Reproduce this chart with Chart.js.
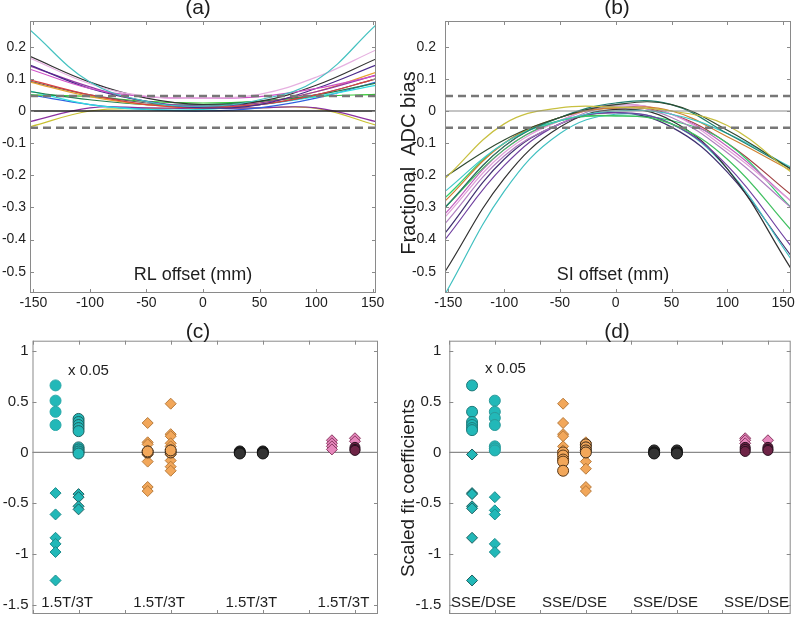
<!DOCTYPE html>
<html>
<head>
<meta charset="utf-8">
<script src="https://cdn.jsdelivr.net/npm/chart.js@4.4.0/dist/chart.umd.min.js"></script>
<style>
  body { margin: 0; background: #fff; }
  #wrap { position: relative; width: 800px; height: 618px; overflow: hidden; }
  canvas { position: absolute; }
</style>
</head>
<body>
<div id="wrap">
  <canvas id="pa" width="400" height="320" style="left:0;top:0"></canvas>
  <canvas id="pb" width="400" height="320" style="left:400px;top:0"></canvas>
  <canvas id="pc" width="400" height="330" style="left:0;top:310px"></canvas>
  <canvas id="pd" width="400" height="330" style="left:400px;top:310px"></canvas>
</div>
<script>
// ---- panel (a): RL offset curves ----
const rlOffsets = [-153, -100, -50, 0, 50, 100, 153];
const rlCurves = [
  [0.252, 0.090, 0.030, 0.015, 0.035, 0.095, 0.268],
  [0.165, 0.085, 0.046, 0.040, 0.052, 0.105, 0.190],
  [0.130, 0.070, 0.045, 0.040, 0.045, 0.070, 0.110],
  [0.170, 0.090, 0.040, 0.020, 0.030, 0.080, 0.162],
  [0.143, 0.070, 0.030, 0.010, 0.020, 0.070, 0.143],
  [0.140, 0.075, 0.030, 0.015, 0.025, 0.060, 0.112],
  [0.097, 0.050, 0.020, 0.010, 0.020, 0.050, 0.100],
  [0.090, 0.045, 0.020, 0.010, 0.025, 0.060, 0.120],
  [0.092, 0.050, 0.025, 0.015, 0.020, 0.050, 0.100],
  [0.060, 0.035, 0.020, 0.020, 0.030, 0.050, 0.087],
  [0.062, 0.020, 0.005, 0.005, 0.020, 0.045, 0.080],
  [0.050, 0.045, 0.030, 0.025, 0.030, 0.045, 0.052],
  [0.050, 0.020, 0.005, 0.000, 0.010, 0.040, 0.090],
  [-0.033, 0.010, 0.010, 0.008, 0.010, 0.010, -0.033],
  [-0.049, 0.000, 0.008, 0.008, 0.010, 0.008, -0.044]
];
const rlColors = ['#45c2c0', '#e6b0e0', '#d050c8', '#333333', '#4a2a8a', '#9535a5', '#d84040',
  '#e8a030', '#606060', '#208050', '#30dede', '#30c830', '#3060e0', '#8a30a0', '#c8c030'];

// ---- panel (b): SI offset curves ----
const siOffsets = [-153, -100, -50, 0, 50, 100, 157];
const siCurves = [
  [-0.210, -0.040, 0.010, 0.012, 0.000, -0.045, -0.190],
  [-0.205, -0.090, -0.020, 0.020, 0.020, -0.060, -0.180],
  [-0.300, -0.110, -0.020, 0.025, 0.020, -0.070, -0.180],
  [-0.250, -0.100, -0.030, 0.000, -0.010, -0.070, -0.175],
  [-0.280, -0.100, -0.020, 0.010, 0.000, -0.080, -0.185],
  [-0.300, -0.120, -0.030, -0.015, -0.040, -0.150, -0.370],
  [-0.330, -0.130, -0.030, 0.020, -0.010, -0.120, -0.280],
  [-0.350, -0.140, -0.040, 0.015, -0.020, -0.130, -0.300],
  [-0.320, -0.120, -0.030, 0.020, -0.010, -0.110, -0.280],
  [-0.400, -0.170, -0.040, -0.005, -0.040, -0.170, -0.420],
  [-0.500, -0.210, -0.050, 0.005, -0.030, -0.180, -0.490],
  [-0.570, -0.250, -0.070, -0.010, -0.040, -0.180, -0.460],
  [-0.380, -0.150, -0.040, -0.005, -0.050, -0.190, -0.450],
  [-0.270, -0.100, -0.030, -0.015, -0.030, -0.100, -0.300],
  [-0.300, -0.110, -0.020, 0.010, -0.010, -0.100, -0.260]
];
const siColors = ['#c8c040', '#304a30', '#208070', '#40c8c8', '#d08030', '#40c060', '#e0a0d8',
  '#b080c0', '#c060c0', '#7040a0', '#303030', '#40c0c0', '#403070', '#30d070', '#a04040'];

const biasLimits = [0.047, -0.052];
const curveTicksX = [-150, -100, -50, 0, 50, 100, 150];
const curveTicksY = [-0.5, -0.4, -0.3, -0.2, -0.1, 0, 0.1, 0.2];

// ---- panels (c) and (d): fit coefficients ----
const columnX = [0.5, 1, 2.5, 3, 4.5, 5, 6.5, 7];
const coefTicksX = [0, 1, 2, 3, 4, 5, 6, 7];
const coefTicksY = [-1.5, -1, -0.5, 0, 0.5, 1];
const labelsC = ['1.5T/3T', '1.5T/3T', '1.5T/3T', '1.5T/3T'];
const labelsD = ['SSE/DSE', 'SSE/DSE', 'SSE/DSE', 'SSE/DSE'];

// (c) 1.5T / 3T
const cCyanCircle1 = [0.66, 0.51, 0.40, 0.27];
const cCyanCircle2 = [0.33, 0.30, 0.27, 0.24, 0.21, 0.05, 0.03, 0.01, -0.01];
const cCyanDiamond1 = [-0.40, -0.61, -0.84, -0.90, -0.98, -1.26];
const cCyanDiamond2 = [-0.41, -0.44, -0.53, -0.56];
const cOrangeDiamond1 = [0.29, 0.10, 0.08, 0.02, -0.02, -0.09, -0.34, -0.38];
const cOrangeCircle1 = [0.00, 0.01];
const cOrangeDiamond2 = [0.48, 0.18, 0.16, 0.09, 0.06, 0.03, -0.02, -0.08, -0.14, -0.18];
const cOrangeCircle2 = [0.00, 0.02];
const cBlack1 = [0.01, 0.00, -0.01];
const cBlack2 = [0.01, 0.00, -0.01];
const cPinkDiamond1 = [0.12, 0.09, 0.06, 0.03];
const cPinkDiamond2 = [0.14, 0.11];
const cDarkPink2 = [0.05, 0.03, 0.02];

// (d) SSE / DSE
const dCyanCircle1 = [0.66, 0.40, 0.30, 0.27, 0.24, 0.22];
const dCyanCircle2 = [0.51, 0.40, 0.34, 0.27, 0.06, 0.04, 0.02];
const dCyanDiamond1 = [-0.02, -0.40, -0.41, -0.53, -0.55, -0.84, -1.26];
const dCyanDiamond2 = [-0.44, -0.57, -0.61, -0.90, -0.98];
const dOrangeDiamond1 = [0.48, 0.29, 0.18, 0.16, 0.06, 0.02, -0.06];
const dOrangeCircle1 = [0.00, -0.03, -0.07, -0.09, -0.18];
const dOrangeDiamond2 = [0.10, 0.07, 0.02, -0.09, -0.16, -0.34, -0.38];
const dOrangeCircle2 = [0.08, 0.05, 0.02, 0.00];
const dBlack1 = [0.02, 0.00, -0.01];
const dBlack2 = [0.02, 0.00, -0.01];
const dPinkDiamond1 = [0.14, 0.12, 0.09];
const dDarkPink1 = [0.05, 0.03, 0.01];
const dPinkDiamond2 = [0.12];
const dDarkPink2 = [0.05, 0.03, 0.02];

const FONT = "'Liberation Sans', Arial, sans-serif";
const TXT = '#1e1e1e';

// draws the box, inward ticks and loose text labels
const frame = {
  id: 'frame',
  afterDatasetsDraw(chart, args, opts) {
    const {ctx, chartArea: a, scales: {x, y}} = chart;
    ctx.save();
    ctx.strokeStyle = '#8a8a8a';
    ctx.lineWidth = 1;
    ctx.strokeRect(a.left + 0.5, a.top + 0.5, a.width - 1, a.height - 1);
    ctx.beginPath();
    x.ticks.forEach(t => {
      const p = Math.round(x.getPixelForValue(t.value)) + 0.5;
      ctx.moveTo(p, a.top); ctx.lineTo(p, a.top + 4);
      ctx.moveTo(p, a.bottom); ctx.lineTo(p, a.bottom - 4);
    });
    y.ticks.forEach(t => {
      const p = Math.round(y.getPixelForValue(t.value)) + 0.5;
      ctx.moveTo(a.left, p); ctx.lineTo(a.left + 4, p);
      ctx.moveTo(a.right, p); ctx.lineTo(a.right - 4, p);
    });
    ctx.stroke();
    ctx.fillStyle = TXT;
    ctx.textBaseline = 'middle';
    (opts.texts || []).forEach(t => {
      const px = t.x !== undefined ? x.getPixelForValue(t.x) : t.px;
      const py = t.y !== undefined ? y.getPixelForValue(t.y) : t.py;
      ctx.save();
      ctx.font = t.size + 'px ' + FONT;
      ctx.textAlign = t.align || 'center';
      ctx.translate(px, py);
      if (t.rotate) ctx.rotate(-Math.PI / 2);
      ctx.fillText(t.text, 0, 0);
      ctx.restore();
    });
    ctx.restore();
  }
};

function fixedTicks(values) {
  return s => { s.ticks = values.map(v => ({value: v})); };
}
function fmt(v) { return String(Math.round(v * 10) / 10); }

const noGrid = {display: false, drawTicks: false};

function curveChart(id, xs, curves, colors, xr, yr, box, zeroStyle, texts) {
  const datasets = [];
  biasLimits.forEach(v => datasets.push({
    data: [{x: xr[0], y: v}, {x: xr[1], y: v}],
    borderColor: '#777777', borderWidth: 2.5, borderDash: [8, 5], pointRadius: 0
  }));
  datasets.push({
    data: [{x: xr[0], y: 0}, {x: xr[1], y: 0}],
    borderColor: zeroStyle.color, borderWidth: zeroStyle.width, pointRadius: 0
  });
  curves.forEach((c, i) => datasets.push({
    data: c.map((v, j) => ({x: xs[j], y: v})),
    borderColor: colors[i], borderWidth: 1.2, pointRadius: 0, tension: 0.4
  }));
  return new Chart(document.getElementById(id), {
    type: 'line',
    data: {datasets},
    plugins: [frame],
    options: {
      responsive: false, animation: false, devicePixelRatio: 1,
      layout: {padding: {left: 0, top: box.top, right: box.right, bottom: 0}},
      plugins: {legend: {display: false}, tooltip: {enabled: false}, frame: {texts}},
      scales: {
        x: {
          type: 'linear', min: xr[0], max: xr[1],
          afterBuildTicks: fixedTicks(curveTicksX),
          afterFit: s => { s.height = box.xh; },
          grid: noGrid, border: {display: false},
          ticks: {padding: 2, color: TXT, font: {family: FONT, size: 14}, maxRotation: 0}
        },
        y: {
          min: yr[0], max: yr[1],
          afterBuildTicks: fixedTicks(curveTicksY),
          afterFit: s => { s.width = box.yw; },
          grid: noGrid, border: {display: false},
          ticks: {padding: box.ypad, color: TXT, font: {family: FONT, size: 14}, callback: fmt}
        }
      }
    }
  });
}

curveChart('pa', rlOffsets, rlCurves, rlColors, [-153, 153], [-0.566, 0.28],
  {top: 21, right: 24, xh: 27, yw: 30, ypad: 4}, {color: '#222222', width: 1.4},
  [{text: '(a)', px: 198, py: 8, size: 21},
   {text: 'RL offset (mm)', px: 193, py: 275, size: 18}]);

curveChart('pb', siOffsets, siCurves, siColors, [-153, 157], [-0.566, 0.28],
  {top: 21, right: 9, xh: 27, yw: 45, ypad: 9}, {color: '#8a8a8a', width: 1.2},
  [{text: '(b)', px: 217, py: 8, size: 21},
   {text: 'SI offset (mm)', px: 213, py: 275, size: 18},
   {text: 'Fractional  ADC bias', px: 9, py: 163, size: 20, rotate: true}]);

function pts(col, values) { return values.map(v => ({x: columnX[col], y: v})); }

function marker(data, shape, fill, edge, r) {
  return {data, pointStyle: shape, pointRadius: r || 5.5, backgroundColor: fill,
    borderColor: edge, borderWidth: 1, showLine: false};
}

const CYAN = '#22b8b8', ORANGE = '#f2a75a', BLACK = '#333333', PINK = '#e687bc', MAROON = '#6e2446';

function coefChart(id, sets, labels, box, texts) {
  labels.forEach((l, i) => texts.push({text: l, x: (columnX[2 * i] + columnX[2 * i + 1]) / 2, y: -1.48, size: 15}));
  const datasets = [{
    type: 'line', data: [{x: 0, y: 0}, {x: 7.5, y: 0}],
    borderColor: '#8a8a8a', borderWidth: 1.3, pointRadius: 0, order: 99
  }].concat(sets);
  return new Chart(document.getElementById(id), {
    type: 'scatter',
    data: {datasets},
    plugins: [frame],
    options: {
      responsive: false, animation: false, devicePixelRatio: 1,
      layout: {padding: {left: 0, top: box.top, right: box.right, bottom: 0}},
      plugins: {legend: {display: false}, tooltip: {enabled: false}, frame: {texts}},
      scales: {
        x: {
          type: 'linear', min: 0, max: 7.5,
          afterBuildTicks: fixedTicks(coefTicksX),
          afterFit: s => { s.height = box.xh; },
          grid: noGrid, border: {display: false},
          ticks: {display: false}
        },
        y: {
          min: -1.59, max: 1.1,
          afterBuildTicks: fixedTicks(coefTicksY),
          afterFit: s => { s.width = box.yw; },
          grid: noGrid, border: {display: false},
          ticks: {padding: box.ypad, color: TXT, font: {family: FONT, size: 15}, callback: fmt}
        }
      }
    }
  });
}

coefChart('pc', [
  marker(pts(0, cCyanCircle1), 'circle', CYAN, '#2aa8a8'),
  marker(pts(1, cCyanCircle2), 'circle', CYAN, '#1d5f5f'),
  marker(pts(0, cCyanDiamond1), 'rectRot', CYAN, '#1a8c8c'),
  marker(pts(1, cCyanDiamond2), 'rectRot', CYAN, '#1d5f5f'),
  marker(pts(2, cOrangeCircle1), 'circle', ORANGE, '#3a2a1a'),
  marker(pts(2, cOrangeDiamond1), 'rectRot', ORANGE, '#b77a3a'),
  marker(pts(3, cOrangeCircle2), 'circle', ORANGE, '#3a2a1a'),
  marker(pts(3, cOrangeDiamond2), 'rectRot', ORANGE, '#b77a3a'),
  marker(pts(4, cBlack1), 'circle', BLACK, '#111111'),
  marker(pts(5, cBlack2), 'circle', BLACK, '#111111'),
  marker(pts(6, cPinkDiamond1), 'rectRot', PINK, '#8a3a62'),
  marker(pts(7, cDarkPink2), 'circle', MAROON, '#2a1020', 5),
  marker(pts(7, cPinkDiamond2), 'rectRot', PINK, '#8a3a62')
], labelsC, {top: 30.7, right: 22, xh: 26, yw: 32.5, ypad: 4},
  [{text: '(c)', px: 198, py: 22, size: 21},
   {text: 'x 0.05', px: 68, py: 61, size: 15, align: 'left'}]);

coefChart('pd', [
  marker(pts(0, dCyanCircle1), 'circle', CYAN, '#1d7a7a'),
  marker(pts(1, dCyanCircle2), 'circle', CYAN, '#2a9a9a'),
  marker(pts(0, dCyanDiamond1), 'rectRot', CYAN, '#1d5f5f'),
  marker(pts(1, dCyanDiamond2), 'rectRot', CYAN, '#1a8c8c'),
  marker(pts(2, dOrangeCircle1), 'circle', ORANGE, '#5a3a1a'),
  marker(pts(2, dOrangeDiamond1), 'rectRot', ORANGE, '#b77a3a'),
  marker(pts(3, dOrangeCircle2), 'circle', ORANGE, '#3a2a1a'),
  marker(pts(3, dOrangeDiamond2), 'rectRot', ORANGE, '#b77a3a'),
  marker(pts(4, dBlack1), 'circle', BLACK, '#111111'),
  marker(pts(5, dBlack2), 'circle', BLACK, '#111111'),
  marker(pts(6, dDarkPink1), 'circle', MAROON, '#2a1020', 5),
  marker(pts(6, dPinkDiamond1), 'rectRot', PINK, '#8a3a62'),
  marker(pts(7, dDarkPink2), 'circle', MAROON, '#2a1020', 5),
  marker(pts(7, dPinkDiamond2), 'rectRot', PINK, '#8a3a62')
], labelsD, {top: 30.7, right: 9.3, xh: 26, yw: 49.3, ypad: 8},
  [{text: '(d)', px: 217, py: 22, size: 21},
   {text: 'x 0.05', px: 85, py: 59, size: 15, align: 'left'},
   {text: 'Scaled fit coefficients', px: 9, py: 178, size: 19, rotate: true}]);
</script>
</body>
</html>
